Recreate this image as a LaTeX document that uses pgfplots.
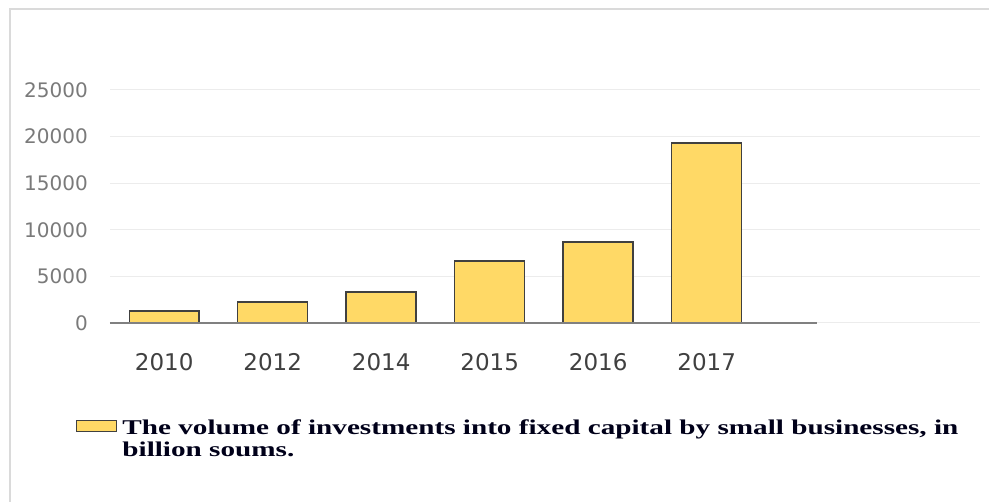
\documentclass[border=0pt]{standalone}
\usepackage{pgfplots}
\pgfplotsset{compat=1.18}
\usepackage{fontspec}
\setmainfont{DejaVu Sans}
\newfontfamily\legfont{Liberation Serif}
\definecolor{barfill}{HTML}{FFD966}
\definecolor{baredge}{HTML}{404040}
\definecolor{gridc}{HTML}{ECECEC}
\definecolor{ylab}{HTML}{7A7A7A}
\definecolor{xlab}{HTML}{404040}
\definecolor{framec}{HTML}{DADADA}
\begin{document}
\begin{tikzpicture}[x=1pt,y=1pt]
\path[use as bounding box] (0,0) rectangle (989,502);
\draw[framec, line width=2pt] (10,0) -- (10,493) -- (989,493);
\begin{axis}[
  at={(110pt,179pt)}, anchor=south west,
  scale only axis, width=870pt, height=233pt,
  xmin=-0.5, xmax=7.52, ymin=0, ymax=25000,
  enlargelimits=false,
  axis line style={draw=none},
  tick style={draw=none},
  ymajorgrids, grid style={gridc, line width=1pt},
  ytick={0,5000,10000,15000,20000,25000},
  xtick={0,1,2,3,4,5},
  xticklabels={2010,2012,2014,2015,2016,2017},
  /pgf/number format/assume math mode=true,
  scaled y ticks=false,
  yticklabel={\pgfmathprintnumber[fixed,1000 sep={}]{\tick}},
  yticklabel style={font=\fontsize{20}{20}\selectfont, color=ylab, anchor=east, inner sep=0pt, xshift=-22pt},
  xticklabel style={font=\fontsize{23}{23}\selectfont, color=xlab, anchor=north, inner sep=0pt, yshift=-30pt},
  legend style={at={(-0.039,-0.408)}, anchor=north west, draw=none, fill=none,
    inner sep=0pt, outer sep=0pt, cells={align=left, anchor=west},
    font=\legfont\bfseries\fontsize{21}{22}\selectfont, text=black!90!blue},
  legend image code/.code={\path (0pt,0pt); \draw[#1, line width=1.2pt] (0pt,8pt) rectangle (40pt,19pt);},
  clip=false,
]
\addplot[ybar, bar width=0.645, fill=barfill, draw=baredge, line width=1.5pt]
  coordinates {(0,1290) (1,2250) (2,3330) (3,6650) (4,8690) (5,19300)};
\addlegendentry{\hspace{3pt}\scalebox{1.39}[1]{The volume of investments into fixed capital by small businesses, in}\\\hspace{3pt}\scalebox{1.39}[1]{billion soums.}}
\addplot[gray, line width=1.5pt, forget plot] coordinates {(-0.5,0) (6.02,0)};
\end{axis}
\end{tikzpicture}
\end{document}
